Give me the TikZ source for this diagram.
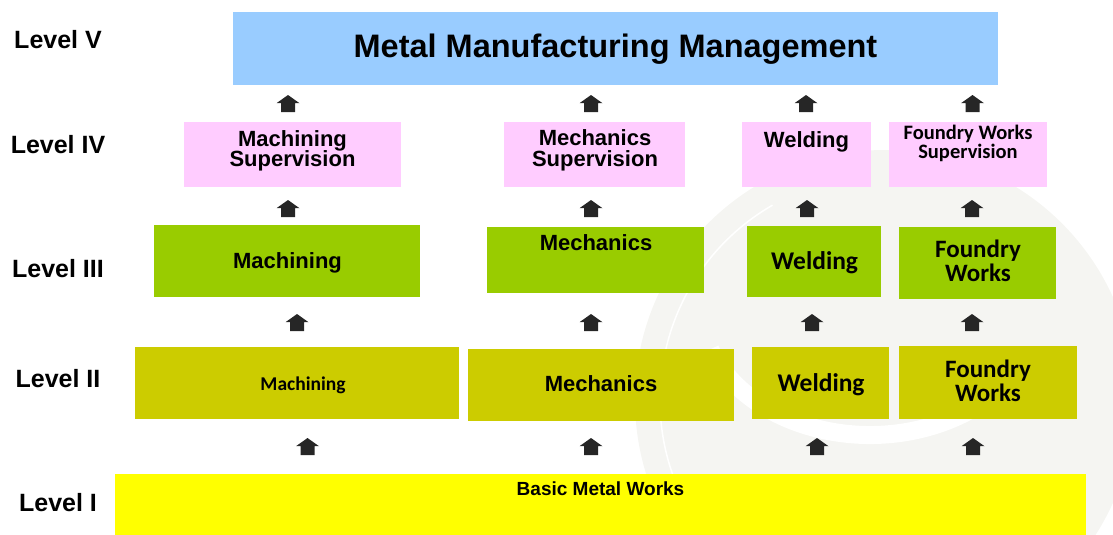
\documentclass[tikz,border=0pt]{standalone}
\usepackage{fontspec}
\setmainfont{Liberation Sans}
\newfontfamily\calib{Carlito}
\newcommand\Af[1]{\bfseries\fontsize{#1}{#1}\selectfont}
\newcommand\Cf[1]{\calib\bfseries\fontsize{#1}{#1}\selectfont}
\definecolor{cblue}{HTML}{99CCFF}
\definecolor{cpink}{HTML}{FFCCFF}
\definecolor{cgreen}{HTML}{99CC00}
\definecolor{colive}{HTML}{CCCC00}
\definecolor{cyell}{HTML}{FFFF00}
\definecolor{carrow}{HTML}{262626}
\definecolor{cwm}{HTML}{F5F5F2}
\tikzset{
  box/.style={inner sep=0pt, outer sep=0pt, anchor=north west, draw=none},
  txt/.style={inner sep=0pt, outer sep=0pt, anchor=base, text=black},
  lvl/.style={txt, font=\Af{25}},
  uparr/.pic={\fill[carrow] (0,-8.5) -- (11.5,-0.3) -- (7,-0.3) -- (7,8.5) -- (-7,8.5) -- (-7,-0.3) -- (-11.5,-0.3) -- cycle;}
}
\begin{document}
\begin{tikzpicture}[x=1pt,y=-1pt]
\useasboundingbox (0,0) rectangle (1113,535);
% faint watermark
\begin{scope}
\clip (0,0) rectangle (1113,535);
\fill[cwm] (885,400) circle (250);
\draw[white, line width=18pt] (870,305) ++(160:170 and 130) arc[start angle=160, end angle=25, x radius=170, y radius=130];
\draw[white, line width=1.5pt] (885,400) ++(150:225) arc[start angle=150, end angle=240, radius=225];
\end{scope}
% level labels
\node[lvl] (l5) at (58,48.5) {Level V};
\node[lvl] (l4) at (58,153) {Level IV};
\node[lvl] (l3) at (58,277) {Level III};
\node[lvl] (l2) at (58,387.3) {Level II};
\node[lvl] (l1) at (58,511.7) {Level I};
% boxes
\node[box, fill=cblue, minimum width=765, minimum height=73] (b5) at (233,12) {};
\node[box, fill=cpink, minimum width=217, minimum height=65] (b4a) at (184,122) {};
\node[box, fill=cpink, minimum width=181, minimum height=65] (b4b) at (504,122) {};
\node[box, fill=cpink, minimum width=129, minimum height=65] (b4c) at (742,122) {};
\node[box, fill=cpink, minimum width=158, minimum height=65] (b4d) at (889,122) {};
\node[box, fill=cgreen, minimum width=266, minimum height=72] (b3a) at (154,225) {};
\node[box, fill=cgreen, minimum width=217, minimum height=66] (b3b) at (487,227) {};
\node[box, fill=cgreen, minimum width=134, minimum height=71] (b3c) at (747,226) {};
\node[box, fill=cgreen, minimum width=157, minimum height=72] (b3d) at (899,227) {};
\node[box, fill=colive, minimum width=324, minimum height=72] (b2a) at (135,347) {};
\node[box, fill=colive, minimum width=266, minimum height=72] (b2b) at (468,349) {};
\node[box, fill=colive, minimum width=137, minimum height=72] (b2c) at (752,347) {};
\node[box, fill=colive, minimum width=178, minimum height=73] (b2d) at (899,346) {};
\node[box, fill=cyell, minimum width=971, minimum height=61] (b1) at (115,474) {};
% texts
\node[txt, font=\Af{32.5}] (t5) at (615.5,57) {Metal Manufacturing Management};
\node[txt, font=\Af{22}] (t4a1) at (292.5,146) {Machining};
\node[txt, font=\Af{22}] (t4a2) at (292.5,166) {Supervision};
\node[txt, font=\Af{22}] (t4b1) at (595,145) {Mechanics};
\node[txt, font=\Af{22}] (t4b2) at (595,166) {Supervision};
\node[txt, font=\Af{22}] (t4c) at (806.5,147.5) {Welding};
\node[txt, font={\calib\bfseries\fontsize{20.5}{17}\selectfont}, align=center] (t4d) at (968,158.5) {Foundry Works\\Supervision};
\node[txt, font=\Af{22}] (t3a) at (287.5,268) {Machining};
\node[txt, font=\Af{22}] (t3b) at (596,250) {Mechanics};
\node[txt, font=\Cf{25.5}] (t3c) at (814.5,269) {Welding};
\node[txt, font=\Cf{25}] (t3d1) at (978,257.3) {Foundry};
\node[txt, font=\Cf{25}] (t3d2) at (978,281) {Works};
\node[txt, font=\Cf{19.5}] (t2a) at (303,390) {Machining};
\node[txt, font=\Af{22}] (t2b) at (601,391) {Mechanics};
\node[txt, font=\Cf{25.5}] (t2c) at (821,391.7) {Welding};
\node[txt, font=\Cf{25}] (t2d1) at (988,377.3) {Foundry};
\node[txt, font=\Cf{25}] (t2d2) at (988,401) {Works};
\node[txt, font=\Af{19}] (t1) at (600.5,495) {Basic Metal Works};
% arrows
\pic (a4a) at (288,103.5) {uparr};
\pic (a4b) at (591,103.5) {uparr};
\pic (a4c) at (806,103.5) {uparr};
\pic (a4d) at (972.5,103.5) {uparr};
\pic (a3a) at (288,208.5) {uparr};
\pic (a3b) at (591,208.5) {uparr};
\pic (a3c) at (807,208.5) {uparr};
\pic (a3d) at (972,208.5) {uparr};
\pic (a2a) at (297,322.5) {uparr};
\pic (a2b) at (591,322.5) {uparr};
\pic (a2c) at (812,322.5) {uparr};
\pic (a2d) at (972,322.5) {uparr};
\pic (a1a) at (307.5,446.5) {uparr};
\pic (a1b) at (591,446.5) {uparr};
\pic (a1c) at (817,446.5) {uparr};
\pic (a1d) at (973,446.5) {uparr};
\end{tikzpicture}
\end{document}
